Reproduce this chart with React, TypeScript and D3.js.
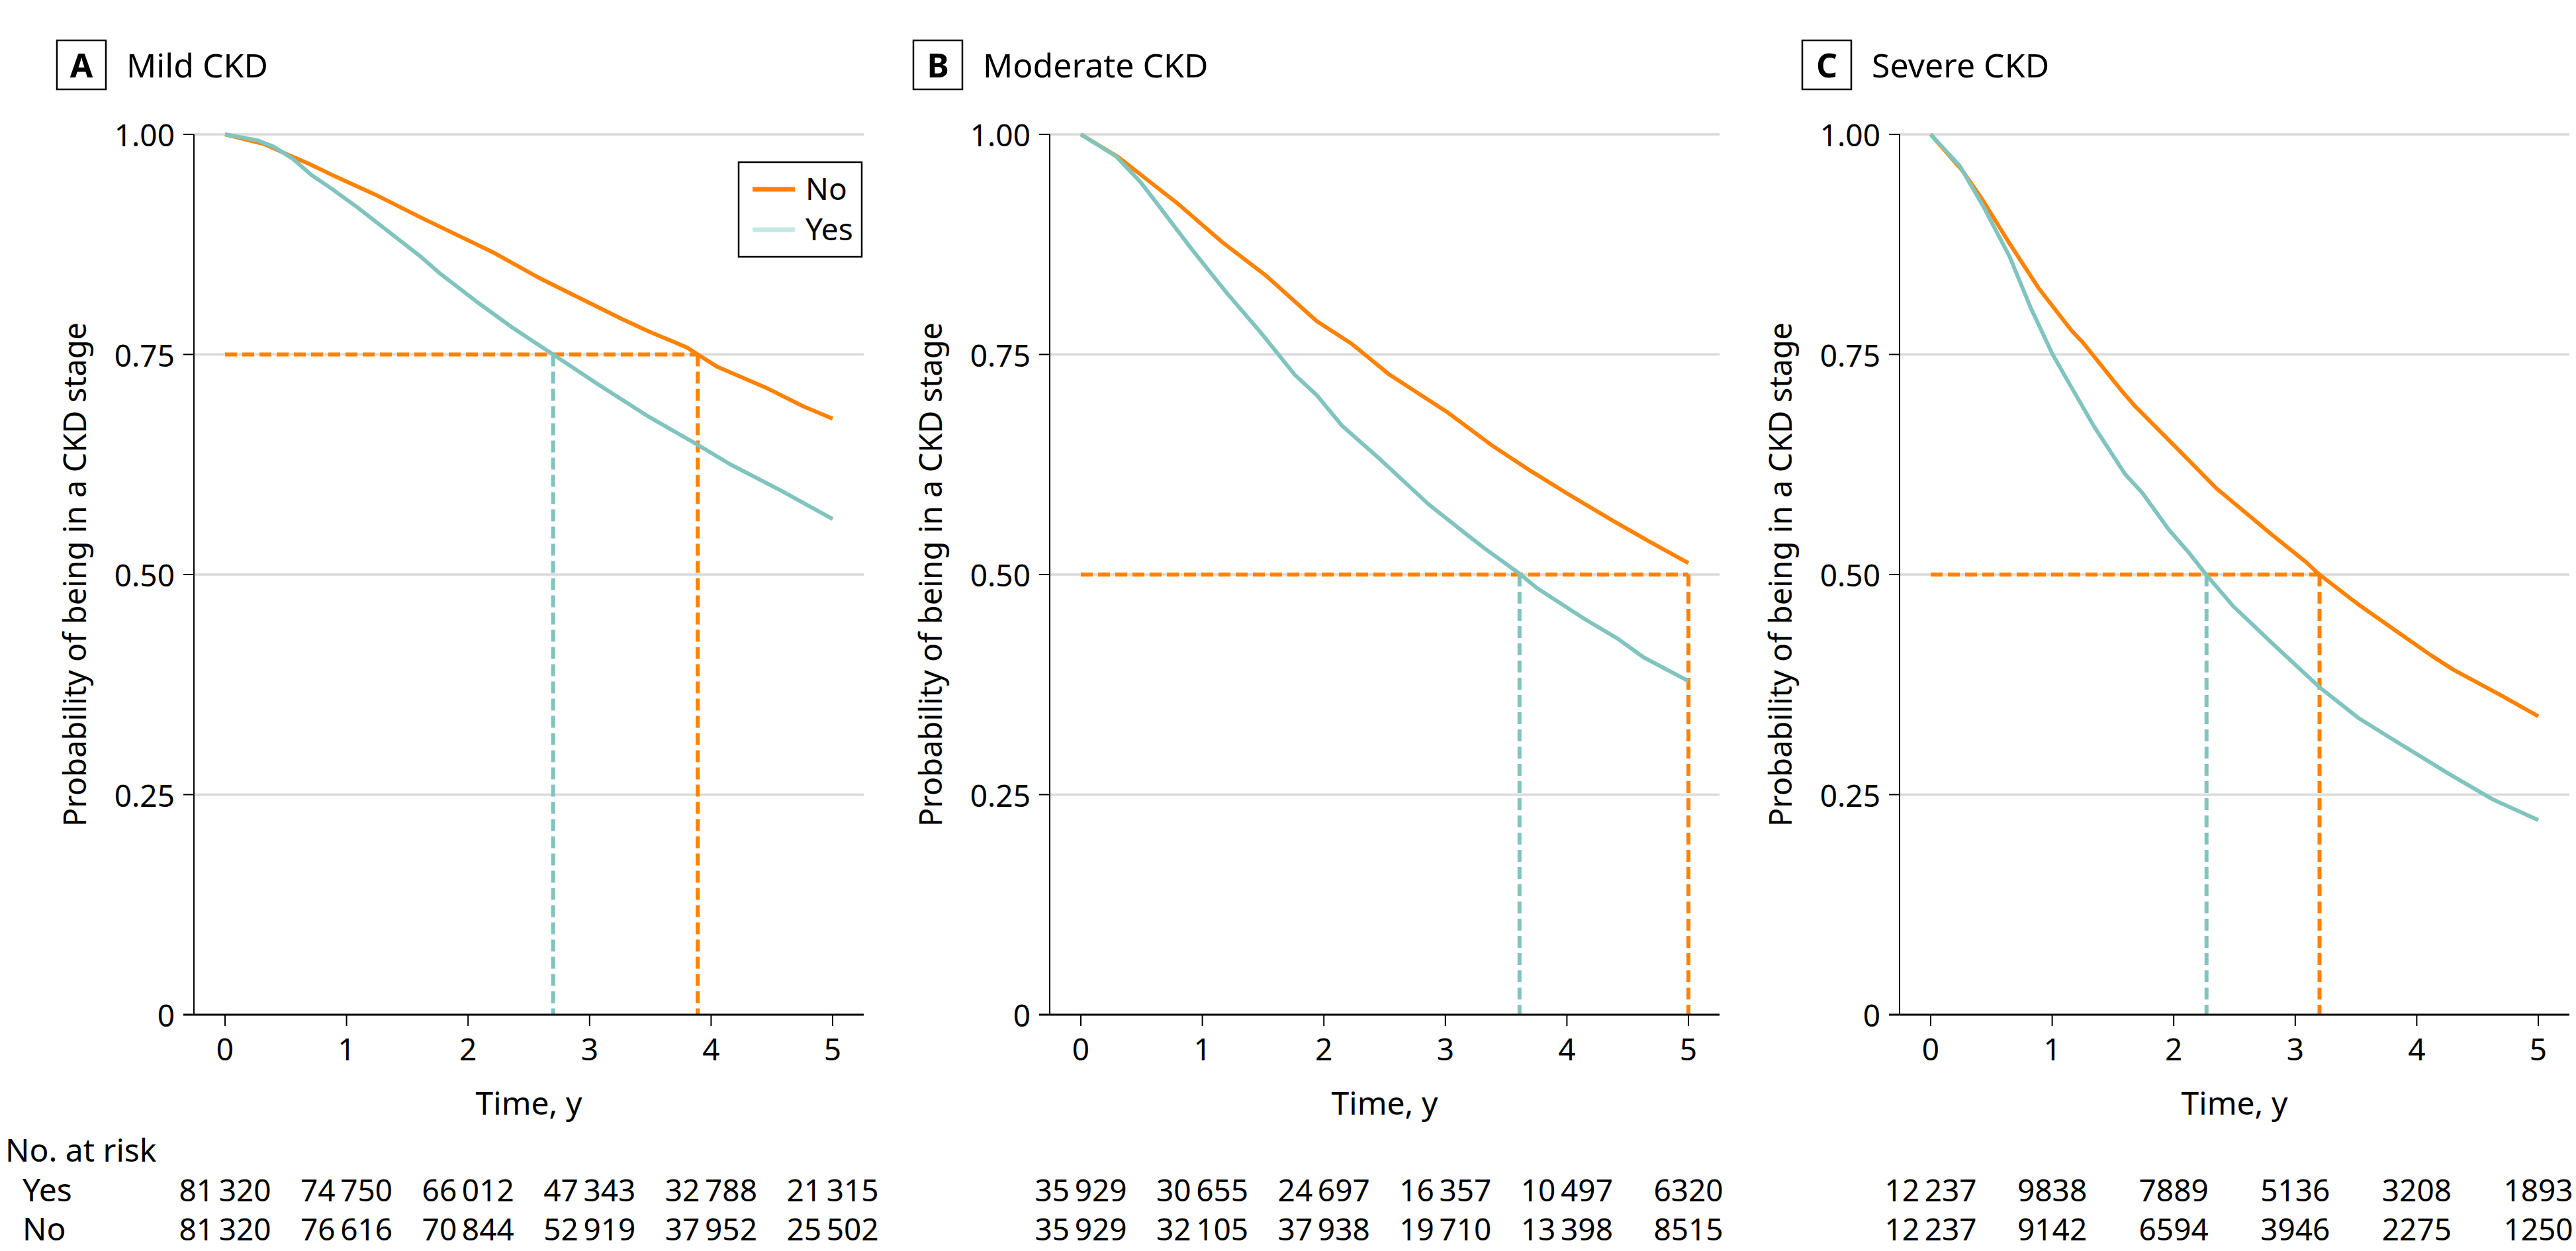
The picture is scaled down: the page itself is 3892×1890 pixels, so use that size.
import React, { useEffect } from "react";
import * as d3 from "d3";

// ---------- data ----------
const years = [0, 1, 2, 3, 4, 5];
const yTicks = [0, 0.25, 0.5, 0.75, 1];
const yTickLabels = ["0", "0.25", "0.50", "0.75", "1.00"];
const groupLabels = ["No", "Yes"];

// [time (y), probability]
const mildNo: [number, number][] = [
  [0, 1.0], [0.32, 0.989], [0.5, 0.978], [0.7, 0.966], [0.91, 0.952], [1.23, 0.932],
  [1.62, 0.905], [1.86, 0.889], [2.22, 0.865], [2.57, 0.838], [2.89, 0.816], [3.27, 0.79],
  [3.49, 0.776], [3.8, 0.758], [3.88, 0.751], [4.05, 0.736], [4.47, 0.711], [4.76, 0.691], [5.0, 0.677],
];
const mildYes: [number, number][] = [
  [0, 1.0], [0.27, 0.993], [0.4, 0.986], [0.56, 0.972], [0.71, 0.954], [0.87, 0.939],
  [1.09, 0.917], [1.37, 0.887], [1.62, 0.86], [1.76, 0.843], [2.07, 0.81], [2.36, 0.781],
  [2.6, 0.759], [2.69, 0.751], [3.06, 0.717], [3.49, 0.679], [3.87, 0.649], [4.16, 0.625],
  [4.58, 0.595], [5.0, 0.563],
];
const moderateNo: [number, number][] = [
  [0, 1.0], [0.31, 0.974], [0.56, 0.947], [0.81, 0.92], [1.16, 0.878], [1.52, 0.84],
  [1.94, 0.788], [2.23, 0.762], [2.54, 0.727], [3.01, 0.685], [3.39, 0.646], [3.71, 0.617],
  [3.99, 0.593], [4.38, 0.561], [4.71, 0.535], [5.0, 0.513],
];
const moderateYes: [number, number][] = [
  [0, 1.0], [0.29, 0.975], [0.49, 0.946], [0.58, 0.93], [0.91, 0.87], [1.2, 0.82],
  [1.48, 0.775], [1.76, 0.727], [1.94, 0.704], [2.15, 0.669], [2.47, 0.63], [2.86, 0.58],
  [3.18, 0.545], [3.32, 0.53], [3.61, 0.501], [3.75, 0.485], [4.14, 0.45], [4.42, 0.427],
  [4.63, 0.406], [5.0, 0.379],
];
const severeNo: [number, number][] = [
  [0, 1.0], [0.26, 0.959], [0.43, 0.925], [0.64, 0.878], [0.89, 0.825], [1.16, 0.777],
  [1.25, 0.764], [1.57, 0.709], [1.67, 0.693], [2.03, 0.643], [2.35, 0.598], [2.49, 0.582],
  [2.81, 0.545], [3.09, 0.514], [3.19, 0.501], [3.52, 0.466], [3.84, 0.435], [4.12, 0.408],
  [4.3, 0.392], [4.69, 0.363], [5.0, 0.339],
];
const severeYes: [number, number][] = [
  [0, 1.0], [0.24, 0.964], [0.43, 0.919], [0.65, 0.861], [0.82, 0.804], [1.0, 0.751],
  [1.14, 0.717], [1.35, 0.667], [1.6, 0.614], [1.74, 0.593], [1.96, 0.551], [2.13, 0.524],
  [2.26, 0.501], [2.49, 0.464], [2.81, 0.422], [3.2, 0.372], [3.52, 0.337], [3.8, 0.313],
  [4.26, 0.274], [4.62, 0.245], [5.0, 0.221],
];

// median markers: [level, time No, time Yes]
const mildMedian = [0.75, 3.89, 2.7];
const moderateMedian = [0.5, 5.0, 3.61];
const severeMedian = [0.5, 3.2, 2.27];

const mildAtRiskYes = [81320, 74750, 66012, 47343, 32788, 21315];
const mildAtRiskNo = [81320, 76616, 70844, 52919, 37952, 25502];
const moderateAtRiskYes = [35929, 30655, 24697, 16357, 10497, 6320];
const moderateAtRiskNo = [35929, 32105, 37938, 19710, 13398, 8515];
const severeAtRiskYes = [12237, 9838, 7889, 5136, 3208, 1893];
const severeAtRiskNo = [12237, 9142, 6594, 3946, 2275, 1250];

const panelLetters = ["A", "B", "C"];
const panelTitles = ["Mild CKD", "Moderate CKD", "Severe CKD"];

// ---------- style ----------
const ORANGE = "#FF8200";
const TEAL = "#80C4BF";
const TEAL_LEGEND = "#C4E8E5";
const GRID = "#D9D9D9";
const FONT = "'Noto Sans', 'Open Sans', sans-serif";

const panels = [
  { axisX: 293, boxX: 86, no: mildNo, yes: mildYes, med: mildMedian, rYes: mildAtRiskYes, rNo: mildAtRiskNo, legend: true },
  { axisX: 1586, boxX: 1380, no: moderateNo, yes: moderateYes, med: moderateMedian, rYes: moderateAtRiskYes, rNo: moderateAtRiskNo, legend: false },
  { axisX: 2870, boxX: 2723, no: severeNo, yes: severeYes, med: severeMedian, rYes: severeAtRiskYes, rNo: severeAtRiskNo, legend: false },
];

const fmt = (n: number) => (n >= 10000 ? d3.format(",")(n).replace(",", "\u2009") : String(n));

const Y_TOP = 203;
const Y_BOT = 1533;
const ROW_YES = 1815;
const ROW_NO = 1874;

function Panel({ p, i }: { p: any; i: number }) {
  const x0 = p.axisX + 47;
  const x = d3.scaleLinear().domain([0, 5]).range([x0, x0 + 918]);
  const y = d3.scaleLinear().domain([0, 1]).range([Y_BOT, Y_TOP]);
  const right = x(5) + 47;
  const line = d3.line<[number, number]>().x((d) => x(d[0])).y((d) => y(d[1]));
  const [lvl, tNo, tYes] = p.med;
  const dash = "18 8";
  return (
    <g>
      {/* title */}
      <rect x={p.boxX} y={61} width={74} height={74} fill="white" stroke="black" strokeWidth={2.5} />
      <text x={p.boxX + 37} y={98} textAnchor="middle" dominantBaseline="central" fontSize={50} fontWeight="bold" fontFamily={FONT}>
        {panelLetters[i]}
      </text>
      <text x={p.boxX + 105} y={98} dominantBaseline="central" fontSize={50} fontFamily={FONT}>
        {panelTitles[i]}
      </text>

      {/* grid */}
      {yTicks.filter((t) => t > 0).map((t) => (
        <line key={t} x1={p.axisX} x2={right} y1={y(t)} y2={y(t)} stroke={GRID} strokeWidth={3.5} />
      ))}

      {/* median dashed lines */}
      <line x1={x(0)} x2={x(tNo)} y1={y(lvl)} y2={y(lvl)} stroke={ORANGE} strokeWidth={6} strokeDasharray={dash} />
      <line x1={x(tYes)} x2={x(tYes)} y1={y(lvl)} y2={y(0)} stroke={TEAL} strokeWidth={6} strokeDasharray={dash} />
      <line x1={x(tNo)} x2={x(tNo)} y1={y(lvl)} y2={y(0)} stroke={ORANGE} strokeWidth={6} strokeDasharray={dash} />

      {/* curves */}
      <path d={line(p.no) || ""} fill="none" stroke={ORANGE} strokeWidth={6} strokeLinejoin="round" />
      <path d={line(p.yes) || ""} fill="none" stroke={TEAL} strokeWidth={6} strokeLinejoin="round" />

      {/* y axis */}
      <line x1={p.axisX} x2={p.axisX} y1={Y_TOP} y2={Y_BOT} stroke="black" strokeWidth={2} />
      {yTicks.map((t, k) => (
        <g key={t}>
          <line x1={p.axisX - 16} x2={p.axisX} y1={y(t)} y2={y(t)} stroke="black" strokeWidth={2} />
          <text x={p.axisX - 29} y={y(t)} textAnchor="end" dominantBaseline="central" fontSize={46} fontFamily={FONT}>
            {yTickLabels[k]}
          </text>
        </g>
      ))}
      <text
        transform={`translate(${p.axisX - 181},${(Y_TOP + Y_BOT) / 2}) rotate(-90)`}
        textAnchor="middle"
        dominantBaseline="central"
        fontSize={47}
        fontFamily={FONT}
      >
        Probability of being in a CKD stage
      </text>

      {/* x axis */}
      <line x1={p.axisX - 16} x2={right} y1={Y_BOT} y2={Y_BOT} stroke="black" strokeWidth={3} />
      {years.map((t) => (
        <g key={t}>
          <line x1={x(t)} x2={x(t)} y1={Y_BOT} y2={Y_BOT + 17} stroke="black" strokeWidth={2} />
          <text x={x(t)} y={1602} textAnchor="middle" fontSize={46} fontFamily={FONT}>
            {t}
          </text>
        </g>
      ))}
      <text x={(x(0) + x(5)) / 2} y={1684} textAnchor="middle" fontSize={48} fontFamily={FONT}>
        Time, y
      </text>

      {/* at risk */}
      {years.map((t, k) => (
        <g key={"r" + t}>
          <text x={x(t)} y={ROW_YES} textAnchor="middle" fontSize={46} fontFamily={FONT}>
            {fmt(p.rYes[k])}
          </text>
          <text x={x(t)} y={ROW_NO} textAnchor="middle" fontSize={46} fontFamily={FONT}>
            {fmt(p.rNo[k])}
          </text>
        </g>
      ))}

      {/* legend */}
      {p.legend && (
        <g>
          <rect x={1116} y={245} width={186} height={143} fill="white" stroke="black" strokeWidth={2.5} />
          <line x1={1137} x2={1201} y1={286} y2={286} stroke={ORANGE} strokeWidth={7} />
          <line x1={1137} x2={1201} y1={347} y2={347} stroke={TEAL_LEGEND} strokeWidth={7} />
          <text x={1217} y={302} fontSize={46} fontFamily={FONT}>{groupLabels[0]}</text>
          <text x={1217} y={363} fontSize={46} fontFamily={FONT}>{groupLabels[1]}</text>
        </g>
      )}
    </g>
  );
}

export default function App() {
  useEffect(() => {
    document.body.style.margin = "0";
  }, []);
  return (
    <svg width={3892} height={1890} style={{ display: "block", background: "white" }} xmlns="http://www.w3.org/2000/svg">
      <rect width={3892} height={1890} fill="white" />
      {panels.map((p, i) => (
        <Panel key={i} p={p} i={i} />
      ))}
      <text x={8} y={1755} fontSize={48} fontFamily={FONT}>No. at risk</text>
      <text x={34} y={ROW_YES} fontSize={48} fontFamily={FONT}>Yes</text>
      <text x={34} y={ROW_NO} fontSize={48} fontFamily={FONT}>No</text>
    </svg>
  );
}
